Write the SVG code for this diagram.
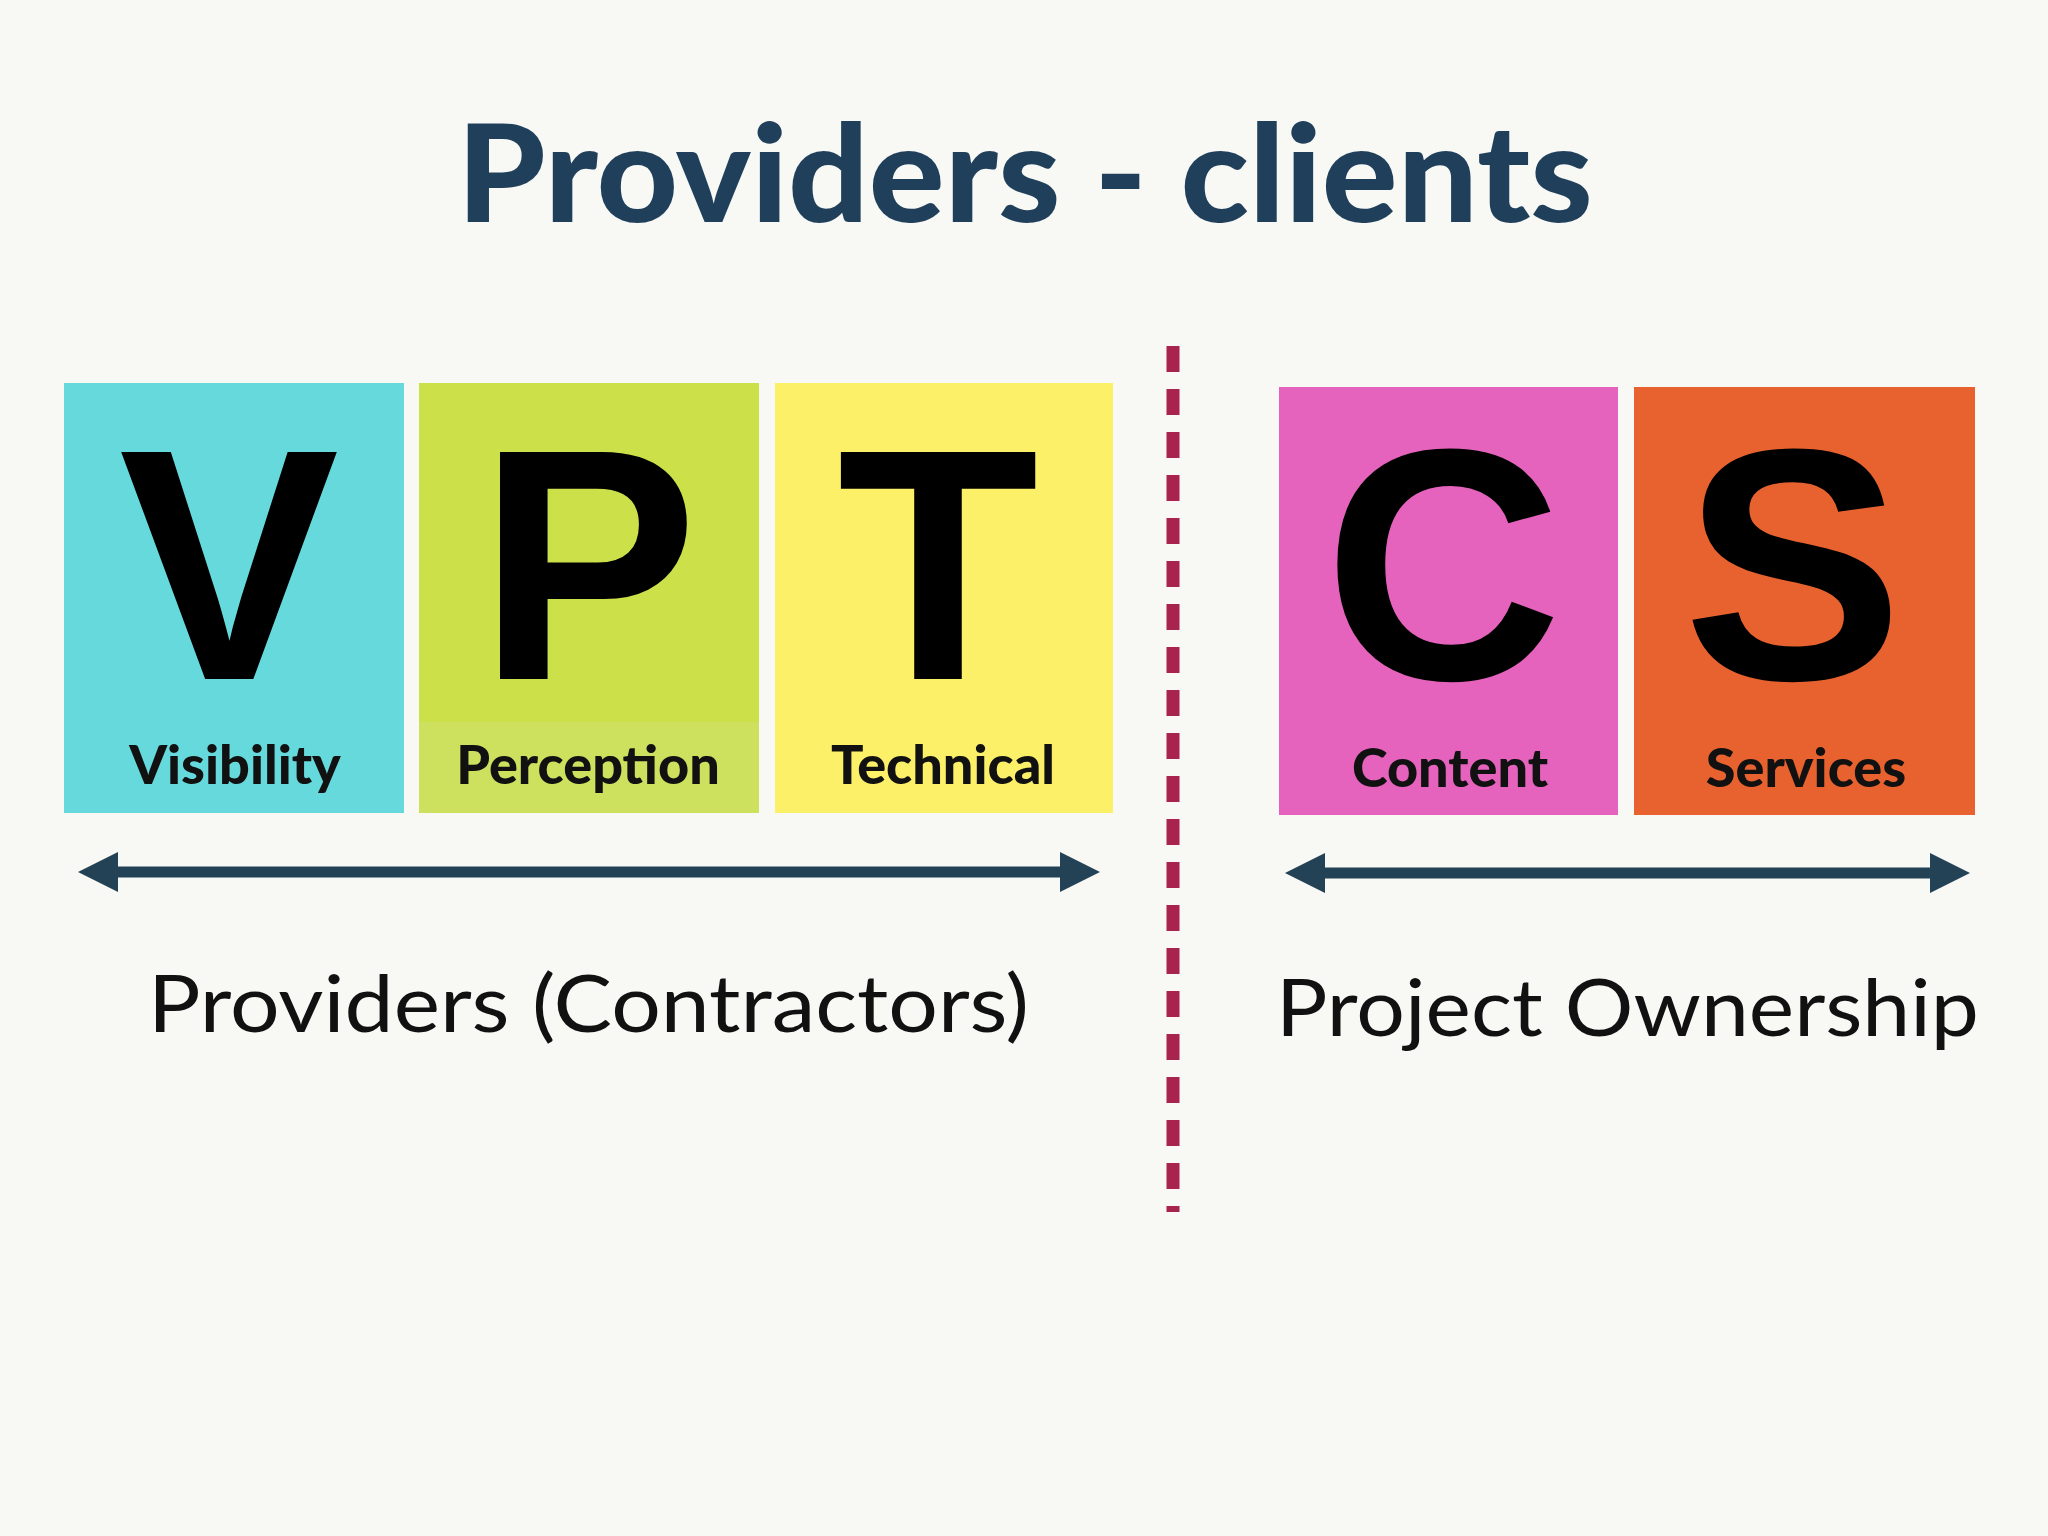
<svg xmlns="http://www.w3.org/2000/svg" width="2048" height="1536" viewBox="0 0 2048 1536">
<style>
.big{font-family:"Liberation Sans",Arial,sans-serif;font-weight:bold;font-size:330px;fill:#000;text-anchor:middle}
.lab{font-family:"Lato","Liberation Sans",sans-serif;font-weight:900;font-size:54px;fill:#111;text-anchor:middle}
.sub{font-family:"Lato","Liberation Sans",sans-serif;font-size:80px;fill:#111}
.ln{stroke:#234256;stroke-width:11;fill:none}
.ah{fill:#234256}
</style>
<rect width="2048" height="1536" fill="#f8f8f5"/>
<text x="1025" y="222" textLength="1136" lengthAdjust="spacingAndGlyphs" font-family="Lato,'Liberation Sans',sans-serif" font-weight="900" font-size="135" fill="#1f3f5a" text-anchor="middle">Providers - clients</text>
<g id="V"><rect x="64" y="383" width="340" height="430" fill="#66d9dc"/><text class="big" x="229" y="679">V</text><text class="lab" x="235" y="784">Visibility</text></g>
<g id="P"><rect x="419" y="383" width="340" height="430" fill="#cce04a"/><rect x="419" y="722" width="340" height="91" fill="#cde15f"/><text class="big" x="588" y="679">P</text><text class="lab" x="588" y="784">Perception</text></g>
<g id="T"><rect x="775" y="383" width="338" height="430" fill="#fbf067"/><text class="big" x="938" y="679">T</text><text class="lab" x="943" y="784">Technical</text></g>
<g id="C"><rect x="1279" y="387" width="339" height="428" fill="#e563bd"/><text class="big" x="1443" y="679">C</text><text class="lab" x="1450" y="787">Content</text></g>
<g id="S"><rect x="1634" y="387" width="341" height="428" fill="#e8622f"/><text class="big" x="1793" y="679">S</text><text class="lab" x="1806" y="787">Services</text></g>
<line x1="1173" y1="346" x2="1173" y2="1212" stroke="#a8234d" stroke-width="13" stroke-dasharray="26 17"/>
<g id="connectors">
<line class="ln" x1="115" y1="872" x2="1062" y2="872"/>
<polygon class="ah" points="78,872 118,852 118,892"/><polygon class="ah" points="1100,872 1060,852 1060,892"/>
<line class="ln" x1="1322" y1="873" x2="1932" y2="873"/>
<polygon class="ah" points="1285,873 1325,853 1325,893"/><polygon class="ah" points="1970,873 1930,853 1930,893"/>
</g>
<text class="sub" x="148" y="1032" textLength="881" lengthAdjust="spacingAndGlyphs">Providers (Contractors)</text>
<text class="sub" x="1276" y="1036" textLength="703" lengthAdjust="spacingAndGlyphs">Project Ownership</text>
</svg>
